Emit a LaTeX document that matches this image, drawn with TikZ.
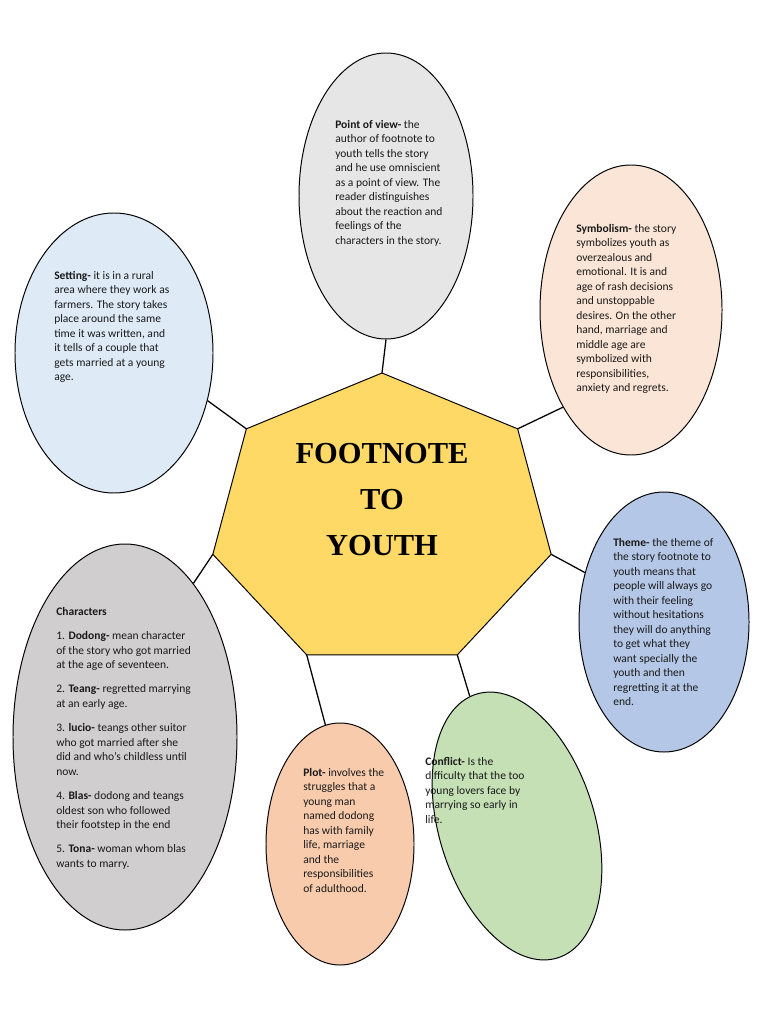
\documentclass[tikz,border=0pt]{standalone}
\usepackage{fontspec}
\setmainfont{Carlito}
\newfontfamily\titlefont{Liberation Serif}
\usetikzlibrary{shapes.geometric}
\definecolor{povgray}{HTML}{E7E6E6}
\definecolor{settingblue}{HTML}{DEEBF7}
\definecolor{symbolpeach}{HTML}{FBE5D6}
\definecolor{themeblue}{HTML}{B4C7E7}
\definecolor{chargray}{HTML}{D0CECE}
\definecolor{plotpeach}{HTML}{F8CBAD}
\definecolor{conflictgreen}{HTML}{C5E0B4}
\definecolor{heptgold}{HTML}{FFD966}
\definecolor{ink}{HTML}{1A1A1A}
\begin{document}
\begin{tikzpicture}[x=0.25mm,y=-0.25mm,
bubble/.style 2 args={ellipse,draw=black,line width=0.7pt,inner sep=0pt,minimum width=#1*0.5mm,minimum height=#2*0.5mm},spoke/.style={draw=black,line width=0.9pt},blurb/.style={anchor=north west,inner sep=0pt,align=left,text=ink,font=\fontsize{8.2}{10.3}\selectfont},titletext/.style={align=center,text=black,font=\titlefont\bfseries\fontsize{21.7}{32.7}\selectfont}]
\useasboundingbox (0,0) rectangle (768,1024);
\pgfmathsetmacro{\hcx}{382}
\pgfmathsetmacro{\hcy}{521.3}
\pgfmathsetmacro{\hrad}{148.3}
\foreach \k in {0,...,6}{\coordinate (h\k) at ({\hcx+1.17*\hrad*cos(90-\k*360/7)},{\hcy-\hrad*sin(90-\k*360/7)});}
\node[bubble={87}{143},fill=povgray] (pov) at (386,196) {};
\node[bubble={99}{140},fill=settingblue] (setting) at (114,353) {};
\node[bubble={91}{145},fill=symbolpeach] (symbolism) at (631,310) {};
\node[bubble={85}{130},fill=themeblue] (theme) at (664,622) {};
\node[bubble={112}{193},fill=chargray] (chars) at (125,737) {};
\node[bubble={74}{121},fill=plotpeach] (plot) at (340,844) {};
\node[bubble={78}{138},fill=conflictgreen,rotate=17] (conflict) at (517,826) {};
\filldraw[fill=heptgold,draw=black,line width=0.7pt] (h0)--(h1)--(h2)--(h3)--(h4)--(h5)--(h6)--cycle;
\node[titletext] (title) at (382,500) {FOOTNOTE\\TO\\YOUTH};
\draw[spoke] (h0)--(pov.south);
\draw[spoke] (h6)--(setting.-27);
\draw[spoke] (h1)--(symbolism.235);
\draw[spoke] (h2)--(theme.148);
\draw[spoke] (h5)--(chars.66);
\draw[spoke] (h4)--(plot.97);
\draw[spoke] (h3)--(conflict.93);
\node[blurb] (povtext) at (335,120) {\textbf{Point of view-} the\\author of footnote to\\youth tells the story\\and he use omniscient\\as a point of view. The\\reader distinguishes\\about the reaction and\\feelings of the\\characters in the story.};
\node[blurb] (settingtext) at (54,271) {\textbf{Setting-} it is in a rural\\area where they work as\\farmers. The story takes\\place around the same\\time it was written, and\\it tells of a couple that\\gets married at a young\\age.};
\node[blurb] (symboltext) at (576,224) {\textbf{Symbolism-} the story\\symbolizes youth as\\overzealous and\\emotional. It is and\\age of rash decisions\\and unstoppable\\desires. On the other\\hand, marriage and\\middle age are\\symbolized with\\responsibilities,\\anxiety and regrets.};
\node[blurb] (themetext) at (613,538) {\textbf{Theme-} the theme of\\the story footnote to\\youth means that\\people will always go\\with their feeling\\without hesitations\\they will do anything\\to get what they\\want specially the\\youth and then\\regretting it at the\\end.};
\node[blurb] (charstext) at (56,607) {\textbf{Characters}\\[7pt]1. \textbf{Dodong-} mean character\\of the story who got married\\at the age of seventeen.\\[7pt]2. \textbf{Teang-} regretted marrying\\at an early age.\\[7pt]3. \textbf{lucio-} teangs other suitor\\who got married after she\\did and who’s childless until\\now.\\[7pt]4. \textbf{Blas-} dodong and teangs\\oldest son who followed\\their footstep in the end\\[7pt]5. \textbf{Tona-} woman whom blas\\wants to marry.};
\node[blurb] (plottext) at (303,768) {\textbf{Plot-} involves the\\struggles that a\\young man\\named dodong\\has with family\\life, marriage\\and the\\responsibilities\\of adulthood.};
\node[blurb] (conflicttext) at (425,757) {\textbf{Conflict-} Is the\\difficulty that the too\\young lovers face by\\marrying so early in\\life.};
\end{tikzpicture}
\end{document}
